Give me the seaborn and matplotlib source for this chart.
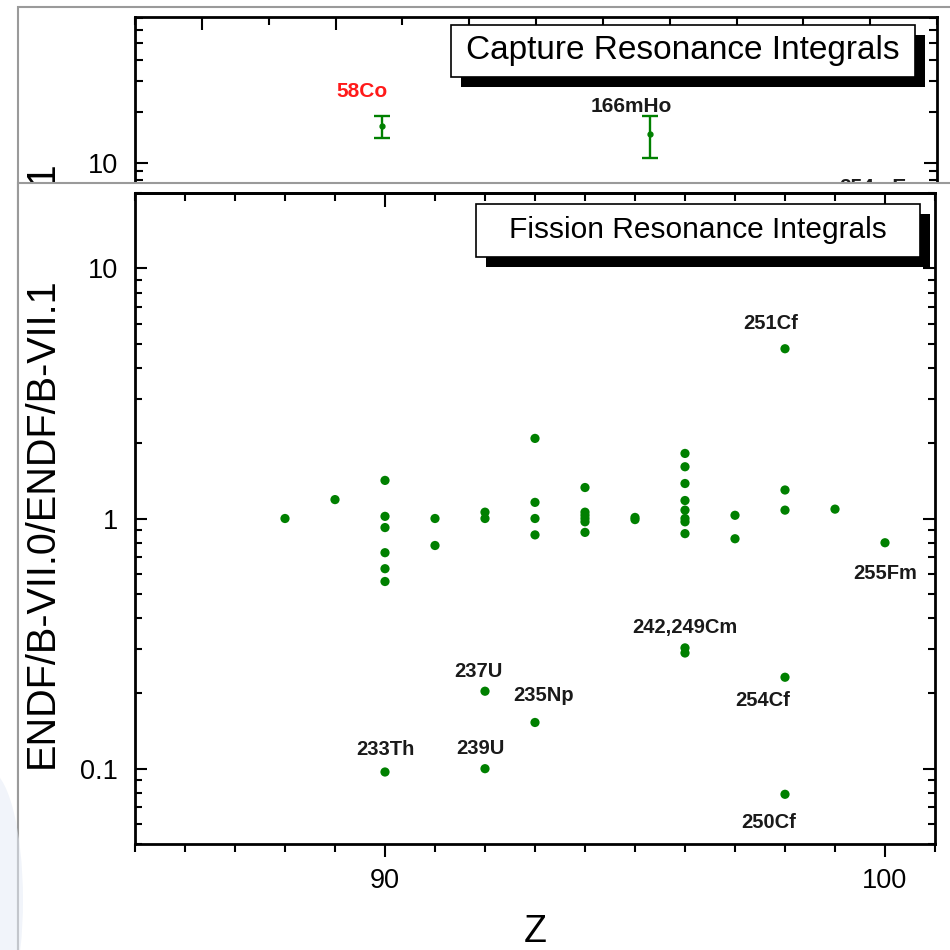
import numpy as np
import pandas as pd
import matplotlib
matplotlib.use("Agg")
import matplotlib.pyplot as plt
import matplotlib.ticker as mticker
from matplotlib.patches import Rectangle, Ellipse
import seaborn as sns

# style first, fonts after (set_style resets font.family)
sns.set_style("ticks", {"axes.edgecolor": "black", "xtick.color": "black",
                        "ytick.color": "black", "text.color": "black",
                        "axes.labelcolor": "black"})
plt.rcParams['font.family'] = ['Liberation Sans', 'DejaVu Sans']

# ---- data: fission resonance integral ratios (lower panel) ----
fis_z = [88, 89,
         90, 90, 90, 90, 90, 90, 90,
         91, 91,
         92, 92, 92, 92,
         93, 93, 93, 93, 93,
         94, 94, 94, 94, 94, 94,
         95, 95,
         96, 96, 96, 96, 96, 96, 96, 96, 96, 96,
         97, 97,
         98, 98, 98, 98, 98,
         99,
         100]
fis_ratio = [1.00, 1.19,
             1.42, 1.02, 0.92, 0.73, 0.63, 0.56, 0.097,
             1.00, 0.78,
             1.06, 1.00, 0.204, 0.100,
             2.09, 1.16, 1.00, 0.86, 0.153,
             1.33, 1.06, 1.03, 1.00, 0.97, 0.88,
             1.01, 0.99,
             1.82, 1.61, 1.38, 1.18, 1.08, 1.00, 0.97, 0.87, 0.304, 0.290,
             1.03, 0.83,
             4.77, 1.30, 1.08, 0.232, 0.079,
             1.09,
             0.80]

# labelled fission outliers
lab_names = ['251Cf', '255Fm', '242,249Cm', '254Cf', '250Cf',
             '237U', '235Np', '239U', '233Th']
lab_z = [98, 100, 96, 98, 98, 92, 93, 92, 90]
lab_ratio = [4.77, 0.80, 0.297, 0.232, 0.079, 0.204, 0.153, 0.100, 0.097]

# ---- data: capture resonance integral ratios (upper panel, mostly covered) ----
cap_names = ['58Co', '166mHo', '254mEs']
cap_z = [27, 67, 99]
cap_ratio = [16.4, 14.8, 5.5]
cap_lo = [14.0, 10.7, 5.0]
cap_hi = [18.8, 18.8, 6.0]

fis_df = pd.DataFrame({'Z': fis_z, 'ratio': fis_ratio})

ylabel = 'ENDF/B-VII.0/ENDF/B-VII.1'
green = '#008000'

W = H = 950.0


def px_box(l, t, r, b):
    return [l / W, 1 - b / H, (r - l) / W, (b - t) / H]


fig = plt.figure(figsize=(9.5, 9.5), dpi=100)

# slide frame behind the upper panel
fig.add_artist(Rectangle((18 / W, -0.2), 1.2, 1 - 7 / H + 0.2, transform=fig.transFigure,
                         fc='white', ec='#9a9a9a', lw=1.5, zorder=0.5))

# ---------- upper panel (capture) ----------
ax_top = fig.add_axes(px_box(135, 17, 937, 815))
ax_top.set_zorder(1)
ax_top.patch.set_visible(False)
ax_top.set_yscale('log')
ax_top.set_xlim(-10, 110)
ax_top.set_ylim(0.00154, 71.4)

err = [np.array(cap_ratio) - np.array(cap_lo), np.array(cap_hi) - np.array(cap_ratio)]
ax_top.errorbar(cap_z, cap_ratio, yerr=err, fmt='o', ms=3.5, color=green,
                capsize=5.5, elinewidth=1.7, capthick=1.7)
cap_colors = ['#ff1a1a', '#1a1a1a', '#1a1a1a']
cap_offsets = [(-14.5, 25), (-13.5, 20), (11, 14)]
for name, z, r, c, off in zip(cap_names, cap_z, cap_ratio, cap_colors, cap_offsets):
    ax_top.annotate(name, (z, r), xytext=off, textcoords='offset points',
                    ha='center', va='center', fontsize=15, fontweight='bold', color=c)

ax_top.xaxis.set_major_locator(mticker.MultipleLocator(20))
ax_top.xaxis.set_minor_locator(mticker.MultipleLocator(10))
ax_top.yaxis.set_major_locator(mticker.LogLocator(base=10, numticks=12))
ax_top.yaxis.set_minor_locator(mticker.LogLocator(base=10, subs=np.arange(2, 10), numticks=12))
ax_top.yaxis.set_major_formatter(mticker.FuncFormatter(lambda v, _: f'{v:g}'))
ax_top.yaxis.set_minor_formatter(mticker.NullFormatter())
ax_top.tick_params(which='both', direction='in', top=True, bottom=True, left=True,
                   right=True, width=1.5, labelsize=19.5, labelbottom=False)
ax_top.tick_params(axis='y', which='both', pad=12)
ax_top.tick_params(which='major', length=9.5)
ax_top.tick_params(which='minor', length=5.5)
for sp in ax_top.spines.values():
    sp.set_linewidth(2)
ax_top.set_ylabel(ylabel, fontsize=28.5)
ax_top.yaxis.set_label_coords(-0.0923, 0.5135)

sx, sy = 0.0125, 0.0125
ax_top.add_patch(Rectangle((0.394 + sx, 0.9248 - sy), 0.5786, 0.0652, transform=ax_top.transAxes,
                           fc='black', ec='none', zorder=5, clip_on=False))
ax_top.add_patch(Rectangle((0.394, 0.9248), 0.5786, 0.0652, transform=ax_top.transAxes,
                           fc='white', ec='black', lw=1.2, zorder=6, clip_on=False))
ax_top.text(0.683, 0.9574, 'Capture Resonance Integrals', transform=ax_top.transAxes,
            ha='center', va='center', fontsize=24, zorder=7)

# slide frame of the lower panel, drawn over the upper one
fig.add_artist(Rectangle((18 / W, -0.2), 1.2, 1 - 183 / H + 0.2, transform=fig.transFigure,
                         fc='white', ec='#9a9a9a', lw=1.5, zorder=2))
fig.add_artist(Ellipse((-12 / W, 1 - 900 / H), 70 / W, 260 / H, transform=fig.transFigure,
                       fc='#e6ecf6', ec='none', alpha=0.55, zorder=2.5))

# ---------- lower panel (fission) ----------
ax = fig.add_axes(px_box(135, 193, 935, 844))
ax.set_zorder(3)
ax.patch.set_visible(False)

sns.scatterplot(data=fis_df, x='Z', y='ratio', ax=ax, color=green, s=44,
                edgecolor='none', legend=False, zorder=3)
ax.set_yscale('log')
ax.set_xlim(85, 101)
ax.set_ylim(0.05, 20)

lab_offsets = [(-10, 18), (0, -22.5), (0, 16.5), (-16, -17), (-12, -20),
               (-5, 14.5), (6.5, 19.5), (-3, 14.5), (0, 16)]
for name, z, r, off in zip(lab_names, lab_z, lab_ratio, lab_offsets):
    ax.annotate(name, (z, r), xytext=off, textcoords='offset points',
                ha='center', va='center', fontsize=14.5, fontweight='bold', color='#1a1a1a')

ax.xaxis.set_major_locator(mticker.MultipleLocator(10))
ax.xaxis.set_minor_locator(mticker.MultipleLocator(1))
ax.yaxis.set_major_locator(mticker.LogLocator(base=10, numticks=12))
ax.yaxis.set_minor_locator(mticker.LogLocator(base=10, subs=np.arange(2, 10), numticks=12))
ax.yaxis.set_major_formatter(mticker.FuncFormatter(lambda v, _: f'{v:g}'))
ax.yaxis.set_minor_formatter(mticker.NullFormatter())

ax.tick_params(axis='y', which='both', direction='in', left=True, right=True,
               width=1.5, labelsize=19.5, pad=12)
ax.tick_params(axis='y', which='major', length=8.5)
ax.tick_params(axis='y', which='minor', length=5)
ax.tick_params(axis='x', which='both', direction='out', bottom=True, top=False,
               width=1.5, labelsize=19.5, pad=8)
ax.tick_params(axis='x', which='major', length=9.5)
ax.tick_params(axis='x', which='minor', length=5.5)

top = ax.secondary_xaxis('top')
top.xaxis.set_major_locator(mticker.MultipleLocator(10))
top.xaxis.set_minor_locator(mticker.MultipleLocator(1))
top.tick_params(which='both', direction='in', width=1.5, labeltop=False)
top.tick_params(which='major', length=10)
top.tick_params(which='minor', length=6)
top.spines['top'].set_linewidth(2)
for sp in ax.spines.values():
    sp.set_linewidth(2)

ax.set_xlabel('Z', fontsize=27, labelpad=14)
ax.set_ylabel(ylabel, fontsize=28.5)
ax.yaxis.set_label_coords(-0.0925, 0.494)

bx, by, bw, bh = 0.426, 0.902, 0.555, 0.081
ax.add_patch(Rectangle((bx + 0.0125, by - 0.0154), bw, bh, transform=ax.transAxes,
                       fc='black', ec='none', zorder=5, clip_on=False))
ax.add_patch(Rectangle((bx, by), bw, bh, transform=ax.transAxes,
                       fc='white', ec='black', lw=1.2, zorder=6, clip_on=False))
ax.text(bx + bw / 2, by + bh / 2, 'Fission Resonance Integrals', transform=ax.transAxes,
        ha='center', va='center', fontsize=21.5, zorder=7)

fig.savefig('out.png', dpi=100, facecolor='white')
